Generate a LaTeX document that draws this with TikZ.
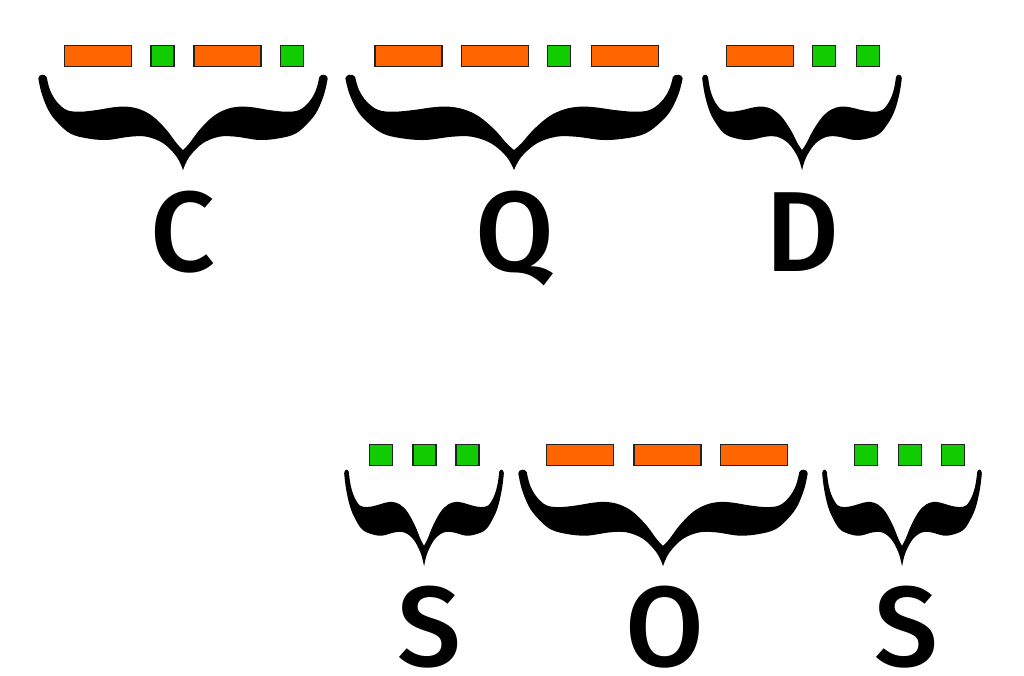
\documentclass[tikz,border=0pt]{standalone}
\usepackage{fontspec}
\newfontfamily\letterfont{Fira Sans}[UprightFont=* Medium]
\definecolor{dahcol}{HTML}{FF6600}
\definecolor{ditcol}{HTML}{11CC00}
\definecolor{edgecol}{HTML}{222222}
\newcommand\bracehalfpath{%
  (-0.94,0) .. controls (-0.95,0.035) and (-0.995,0.035) .. (-0.998,-0.014)
  -- plot[smooth, tension=0.6] coordinates {(-0.998,-0.014) (-0.975,-0.176) (-0.929,-0.355) (-0.871,-0.480) (-0.779,-0.606) (-0.664,-0.659) (-0.526,-0.677) (-0.366,-0.642) (-0.251,-0.642) (-0.136,-0.713) (-0.044,-0.857) (0,-1)}
  -- (0,-0.785)
  -- plot[smooth, tension=0.6] coordinates {(0,-0.785) (-0.044,-0.713) (-0.113,-0.570) (-0.205,-0.427) (-0.297,-0.348) (-0.389,-0.319) (-0.481,-0.326) (-0.595,-0.355) (-0.710,-0.373) (-0.802,-0.355) (-0.871,-0.265) (-0.917,-0.140) (-0.94,0)}
  -- cycle}
\newcommand\morsebrace[4]{%
  \begin{scope}[shift={(#1,#2)},xscale=#3,yscale=#4]
    \fill[black] \bracehalfpath;
    \fill[black,xscale=-1] \bracehalfpath;
  \end{scope}}
\begin{document}
\begin{tikzpicture}[x=1pt,y=1pt,
  dah/.style={draw=edgecol,line width=1.3pt,fill=dahcol,minimum width=67pt,minimum height=21pt,inner sep=0pt},
  dit/.style={draw=edgecol,line width=1.3pt,fill=ditcol,minimum width=23pt,minimum height=21pt,inner sep=0pt},
  letter/.style={font=\letterfont\fontsize{114}{114}\selectfont,inner sep=0pt,anchor=base}]
\path[use as bounding box] (0,0) rectangle (1024,-675);
% C  -.-.
\node[dah] (c1) at (98,-56) {};
\node[dit] (c2) at (162.5,-56) {};
\node[dah] (c3) at (227.5,-56) {};
\node[dit] (c4) at (292,-56) {};
% Q  --.-
\node[dah] (q1) at (408.5,-56) {};
\node[dah] (q2) at (495,-56) {};
\node[dit] (q3) at (559,-56) {};
\node[dah] (q4) at (625,-56) {};
% D  -..
\node[dah] (d1) at (760,-56) {};
\node[dit] (d2) at (824,-56) {};
\node[dit] (d3) at (868,-56) {};
% S ...
\node[dit] (s1) at (381,-455) {};
\node[dit] (s2) at (424.5,-455) {};
\node[dit] (s3) at (467.5,-455) {};
% O ---
\node[dah] (o1) at (580,-455) {};
\node[dah] (o2) at (667.5,-455) {};
\node[dah] (o3) at (754,-455) {};
% S ...
\node[dit] (t1) at (866,-455) {};
\node[dit] (t2) at (910,-455) {};
\node[dit] (t3) at (953,-455) {};
% braces
\morsebrace{183}{-77}{145}{93}
\morsebrace{514}{-77}{169}{93}
\morsebrace{802}{-77}{100}{93}
\morsebrace{424}{-472}{80}{94}
\morsebrace{663}{-472}{145}{94}
\morsebrace{902}{-472}{80}{94}
% letters
\node[letter] (lc) at (183,-271) {C};
\node[letter] (lq) at (515,-271) {Q};
\node[letter] (ld) at (802,-271) {D};
\node[letter] (ls1) at (429,-666) {S};
\node[letter] (lo) at (665,-666) {O};
\node[letter] (ls2) at (906,-666) {S};
\end{tikzpicture}
\end{document}
